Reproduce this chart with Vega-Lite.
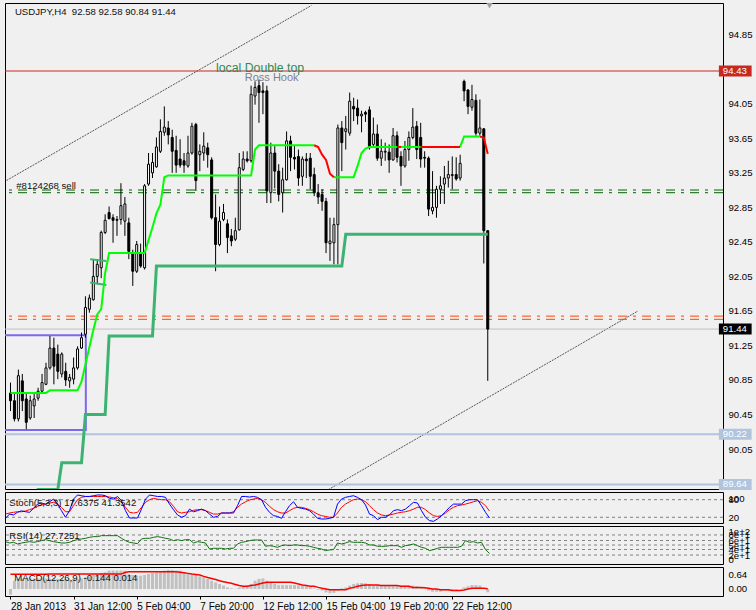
{
"$schema":"https://vega.github.io/schema/vega-lite/v6.json",
"background":"#F0F0F0",
"padding":{"left":3,"top":2,"right":0,"bottom":0},
"bounds":"flush",
"spacing":3,
"config":{"view":{"stroke":"#000000","strokeWidth":1},"axis":{"labelFont":"Liberation Sans","labelFontSize":9.6,"labelColor":"#000000","domain":false,"grid":false,"ticks":false},"text":{"font":"Liberation Sans"}},
"datasets":{
"b":[
{"i":0,"o":90.70,"h":90.82,"l":90.49,"c":90.61,"t":89.30,"k":16.5,"d":31,"r":58.8,"m":-0.25,"s":0.64},
{"i":1,"o":90.61,"h":90.69,"l":90.37,"c":90.40,"t":89.30,"k":31,"d":34.6,"r":55.3,"m":0.36,"s":0.64},
{"i":2,"o":90.40,"h":90.97,"l":90.37,"c":90.90,"t":89.30,"k":28,"d":37,"r":57.1,"m":0.44,"s":0.64},
{"i":3,"o":90.84,"h":90.92,"l":90.49,"c":90.61,"t":89.30,"k":37,"d":39,"r":52.7,"m":0.46,"s":0.64},
{"i":4,"o":90.63,"h":90.69,"l":90.28,"c":90.36,"t":89.30,"k":42,"d":39,"r":55.3,"m":0.46,"s":0.64},
{"i":5,"o":90.41,"h":90.67,"l":90.39,"c":90.61,"t":89.30,"k":39,"d":41.5,"r":57.1,"m":0.46,"s":0.64},
{"i":6,"o":90.55,"h":90.69,"l":90.41,"c":90.63,"t":89.30,"k":37,"d":46,"r":58.8,"m":0.46,"s":0.64},
{"i":7,"o":90.64,"h":90.76,"l":90.61,"c":90.72,"t":89.58,"k":50.5,"d":50.5,"r":57.1,"m":0.46,"s":0.64},
{"i":8,"o":90.72,"h":90.92,"l":90.70,"c":90.82,"t":89.58,"k":65,"d":57.3,"r":58.8,"m":0.46,"s":0.64},
{"i":9,"o":90.80,"h":91.05,"l":90.79,"c":90.99,"t":89.58,"k":68.7,"d":61.9,"r":61.5,"m":0.46,"s":0.64},
{"i":10,"o":90.99,"h":91.36,"l":90.97,"c":91.22,"t":89.58,"k":65,"d":65,"r":64.1,"m":0.44,"s":0.65},
{"i":11,"o":91.22,"h":91.34,"l":90.80,"c":91.01,"t":89.58,"k":73,"d":68.7,"r":61.5,"m":0.44,"s":0.65},
{"i":12,"o":91.15,"h":91.26,"l":90.86,"c":90.95,"t":89.58,"k":82,"d":71,"r":58.8,"m":0.44,"s":0.65},
{"i":13,"o":90.92,"h":91.17,"l":90.88,"c":91.15,"t":89.89,"k":65,"d":65,"r":57.1,"m":0.44,"s":0.65},
{"i":14,"o":90.95,"h":91.05,"l":90.78,"c":90.85,"t":89.89,"k":42.6,"d":54,"r":55.3,"m":0.44,"s":0.65},
{"i":15,"o":90.84,"h":90.92,"l":90.76,"c":90.88,"t":89.89,"k":20,"d":39,"r":55.3,"m":0.41,"s":0.65},
{"i":16,"o":90.86,"h":91.11,"l":90.80,"c":90.99,"t":89.89,"k":42.6,"d":39,"r":57.1,"m":0.44,"s":0.65},
{"i":17,"o":90.99,"h":91.24,"l":90.97,"c":91.21,"t":89.89,"k":82,"d":59.6,"r":61.5,"m":0.44,"s":0.65},
{"i":18,"o":91.22,"h":91.40,"l":91.21,"c":91.34,"t":89.89,"k":96,"d":80,"r":64.1,"m":0.46,"s":0.65},
{"i":19,"o":91.38,"h":91.82,"l":91.34,"c":91.69,"t":90.45,"k":93.6,"d":88,"r":65.9,"m":0.51,"s":0.65},
{"i":20,"o":91.67,"h":91.84,"l":91.63,"c":91.80,"t":90.45,"k":91,"d":91,"r":67.6,"m":0.55,"s":0.65},
{"i":21,"o":91.78,"h":92.25,"l":91.77,"c":92.05,"t":90.45,"k":91,"d":91,"r":70.2,"m":0.61,"s":0.65},
{"i":22,"o":92.05,"h":92.25,"l":91.96,"c":92.19,"t":90.45,"k":93.6,"d":91,"r":72.0,"m":0.65,"s":0.65},
{"i":23,"o":92.15,"h":92.58,"l":92.03,"c":92.56,"t":90.45,"k":96,"d":91,"r":72.0,"m":0.70,"s":0.65},
{"i":24,"o":92.56,"h":92.77,"l":92.54,"c":92.70,"t":90.45,"k":96,"d":91,"r":74.6,"m":0.73,"s":0.65},
{"i":25,"o":92.79,"h":92.86,"l":92.71,"c":92.72,"t":91.36,"k":93.6,"d":91,"r":74.6,"m":0.80,"s":0.65},
{"i":26,"o":92.73,"h":92.77,"l":92.44,"c":92.70,"t":91.36,"k":84.5,"d":89,"r":74.6,"m":0.80,"s":0.65},
{"i":27,"o":92.70,"h":92.75,"l":92.52,"c":92.71,"t":91.36,"k":82,"d":86.8,"r":74.6,"m":0.80,"s":0.65},
{"i":28,"o":92.71,"h":93.13,"l":92.65,"c":92.87,"t":91.36,"k":91,"d":84.5,"r":74.6,"m":0.80,"s":0.65},
{"i":29,"o":92.69,"h":92.97,"l":92.52,"c":92.89,"t":91.36,"k":76.6,"d":71,"r":67.6,"m":0.80,"s":0.72},
{"i":30,"o":92.67,"h":92.73,"l":92.25,"c":92.34,"t":91.36,"k":42.6,"d":54,"r":61.5,"m":0.65,"s":0.75},
{"i":31,"o":92.32,"h":92.36,"l":91.94,"c":92.11,"t":91.36,"k":17.6,"d":37,"r":57.1,"m":0.61,"s":0.75},
{"i":32,"o":92.11,"h":92.46,"l":92.09,"c":92.42,"t":91.36,"k":17.6,"d":34.6,"r":55.3,"m":0.58,"s":0.75},
{"i":33,"o":92.32,"h":92.43,"l":92.15,"c":92.17,"t":91.36,"k":17.6,"d":37,"r":53.5,"m":0.58,"s":0.75},
{"i":34,"o":92.15,"h":93.12,"l":92.13,"c":93.10,"t":91.36,"k":48,"d":54,"r":65.9,"m":0.61,"s":0.75},
{"i":35,"o":93.12,"h":93.48,"l":93.10,"c":93.35,"t":91.36,"k":82,"d":71,"r":67.6,"m":0.65,"s":0.75},
{"i":36,"o":93.25,"h":93.48,"l":93.19,"c":93.37,"t":91.36,"k":96,"d":80,"r":67.6,"m":0.70,"s":0.75},
{"i":37,"o":93.32,"h":93.66,"l":93.31,"c":93.55,"t":92.17,"k":93.6,"d":84.5,"r":70.2,"m":0.73,"s":0.75},
{"i":38,"o":93.50,"h":93.87,"l":93.48,"c":93.73,"t":92.17,"k":91,"d":82,"r":72.0,"m":0.75,"s":0.75},
{"i":39,"o":93.72,"h":94.02,"l":93.68,"c":93.78,"t":92.17,"k":91,"d":80,"r":70.2,"m":0.80,"s":0.75},
{"i":40,"o":93.77,"h":93.85,"l":93.58,"c":93.69,"t":92.17,"k":88,"d":80,"r":67.6,"m":0.83,"s":0.75},
{"i":41,"o":93.66,"h":93.75,"l":93.25,"c":93.50,"t":92.17,"k":65,"d":73,"r":65.9,"m":0.83,"s":0.75},
{"i":42,"o":93.51,"h":93.68,"l":93.25,"c":93.34,"t":92.17,"k":46,"d":57.3,"r":61.5,"m":0.80,"s":0.75},
{"i":43,"o":93.41,"h":93.64,"l":93.31,"c":93.34,"t":92.17,"k":28,"d":39,"r":64.1,"m":0.80,"s":0.73},
{"i":44,"o":93.39,"h":93.48,"l":93.25,"c":93.34,"t":92.17,"k":20,"d":34.6,"r":61.5,"m":0.73,"s":0.71},
{"i":45,"o":93.33,"h":93.68,"l":93.31,"c":93.48,"t":92.17,"k":25.6,"d":37,"r":64.1,"m":0.70,"s":0.68},
{"i":46,"o":93.48,"h":93.83,"l":93.46,"c":93.79,"t":92.17,"k":48,"d":39,"r":64.1,"m":0.65,"s":0.65},
{"i":47,"o":93.81,"h":93.83,"l":93.04,"c":93.16,"t":92.17,"k":39,"d":43.7,"r":55.3,"m":0.61,"s":0.63},
{"i":48,"o":93.46,"h":93.58,"l":93.27,"c":93.50,"t":92.17,"k":42.6,"d":46,"r":58.8,"m":0.55,"s":0.61},
{"i":49,"o":93.48,"h":93.72,"l":93.39,"c":93.56,"t":92.17,"k":48,"d":46,"r":57.1,"m":0.51,"s":0.55},
{"i":50,"o":93.54,"h":93.60,"l":93.31,"c":93.46,"t":92.17,"k":42.6,"d":42.6,"r":55.3,"m":0.44,"s":0.50},
{"i":51,"o":93.40,"h":93.43,"l":92.71,"c":92.73,"t":92.17,"k":31,"d":37,"r":39.5,"m":0.36,"s":0.46},
{"i":52,"o":92.73,"h":93.00,"l":92.11,"c":92.42,"t":92.17,"k":20,"d":31,"r":41.3,"m":0.29,"s":0.41},
{"i":53,"o":92.42,"h":92.86,"l":92.40,"c":92.69,"t":92.17,"k":23,"d":31,"r":41.3,"m":0.22,"s":0.36},
{"i":54,"o":92.71,"h":92.89,"l":92.69,"c":92.79,"t":92.17,"k":34.6,"d":34.6,"r":41.3,"m":0.15,"s":0.32},
{"i":55,"o":92.66,"h":92.71,"l":92.32,"c":92.50,"t":92.17,"k":34.6,"d":34.6,"r":39.5,"m":0.07,"s":0.28},
{"i":56,"o":92.52,"h":92.60,"l":92.40,"c":92.46,"t":92.17,"k":34.6,"d":34.6,"r":41.3,"m":0.03,"s":0.25},
{"i":57,"o":92.48,"h":92.73,"l":92.46,"c":92.58,"t":92.17,"k":34.6,"d":39,"r":41.3,"m":0.01,"s":0.20},
{"i":58,"o":92.59,"h":93.48,"l":92.58,"c":93.31,"t":92.17,"k":59.6,"d":54,"r":52.7,"m":0.07,"s":0.15},
{"i":59,"o":93.29,"h":93.50,"l":93.27,"c":93.41,"t":92.17,"k":91,"d":65,"r":57.1,"m":0.12,"s":0.12},
{"i":60,"o":93.41,"h":93.50,"l":93.37,"c":93.39,"t":92.17,"k":91,"d":73,"r":58.8,"m":0.15,"s":0.12},
{"i":61,"o":93.39,"h":94.26,"l":93.37,"c":94.16,"t":92.17,"k":89,"d":79,"r":61.5,"m":0.22,"s":0.15},
{"i":62,"o":94.14,"h":94.31,"l":94.04,"c":94.24,"t":92.17,"k":91,"d":82.3,"r":63.2,"m":0.36,"s":0.17},
{"i":63,"o":94.26,"h":94.33,"l":93.83,"c":94.18,"t":92.17,"k":88,"d":84.5,"r":63.2,"m":0.44,"s":0.22},
{"i":64,"o":94.20,"h":94.30,"l":93.93,"c":94.18,"t":92.17,"k":80,"d":80,"r":63.2,"m":0.46,"s":0.26},
{"i":65,"o":94.20,"h":94.26,"l":92.90,"c":93.04,"t":92.17,"k":54,"d":71,"r":46.6,"m":0.36,"s":0.29},
{"i":66,"o":93.02,"h":93.60,"l":92.90,"c":93.48,"t":92.17,"k":37,"d":57.3,"r":48.3,"m":0.29,"s":0.29},
{"i":67,"o":93.48,"h":93.56,"l":93.07,"c":93.27,"t":92.17,"k":25.6,"d":46,"r":46.6,"m":0.22,"s":0.29},
{"i":68,"o":93.27,"h":93.35,"l":92.92,"c":93.00,"t":92.17,"k":23,"d":39,"r":43.9,"m":0.17,"s":0.29},
{"i":69,"o":93.02,"h":93.31,"l":92.79,"c":93.17,"t":92.17,"k":16.5,"d":34.6,"r":48.3,"m":0.17,"s":0.29},
{"i":70,"o":93.17,"h":93.73,"l":93.16,"c":93.62,"t":92.17,"k":39,"d":34.6,"r":50.1,"m":0.17,"s":0.29},
{"i":71,"o":93.62,"h":93.68,"l":93.27,"c":93.43,"t":92.17,"k":59.6,"d":42.6,"r":48.3,"m":0.17,"s":0.29},
{"i":72,"o":93.43,"h":93.56,"l":93.29,"c":93.41,"t":92.17,"k":73,"d":50.5,"r":50.1,"m":0.17,"s":0.26},
{"i":73,"o":93.44,"h":93.52,"l":93.10,"c":93.19,"t":92.17,"k":54,"d":54,"r":50.1,"m":0.15,"s":0.22},
{"i":74,"o":93.21,"h":93.44,"l":93.10,"c":93.41,"t":92.17,"k":50.5,"d":54,"r":48.3,"m":0.15,"s":0.17},
{"i":75,"o":93.41,"h":93.48,"l":93.19,"c":93.39,"t":92.17,"k":48,"d":50.5,"r":48.3,"m":0.12,"s":0.15},
{"i":76,"o":93.42,"h":93.48,"l":93.06,"c":93.21,"t":92.17,"k":42.6,"d":46,"r":46.6,"m":0.07,"s":0.12},
{"i":77,"o":93.23,"h":93.31,"l":92.98,"c":93.02,"t":92.17,"k":31,"d":39,"r":43.9,"m":0.03,"s":0.12},
{"i":78,"o":93.02,"h":93.12,"l":92.89,"c":92.97,"t":92.17,"k":16.5,"d":31,"r":41.3,"m":-0.03,"s":0.07},
{"i":79,"o":93.00,"h":93.06,"l":92.81,"c":92.92,"t":92.17,"k":14.2,"d":25.6,"r":39.5,"m":-0.07,"s":0.03},
{"i":80,"o":92.92,"h":92.96,"l":92.32,"c":92.44,"t":92.17,"k":14.2,"d":23,"r":35.2,"m":-0.15,"s":0.0},
{"i":81,"o":92.43,"h":92.73,"l":92.23,"c":92.46,"t":92.17,"k":16.5,"d":20,"r":36.9,"m":-0.19,"s":-0.03},
{"i":82,"o":92.44,"h":92.73,"l":92.19,"c":92.65,"t":92.17,"k":20,"d":20,"r":37.8,"m":-0.17,"s":-0.03},
{"i":83,"o":92.65,"h":93.81,"l":92.19,"c":93.77,"t":92.17,"k":65,"d":34.6,"r":55.3,"m":-0.07,"s":-0.03},
{"i":84,"o":93.77,"h":93.85,"l":93.27,"c":93.60,"t":92.17,"k":82,"d":54,"r":52.7,"m":0.03,"s":-0.03},
{"i":85,"o":93.73,"h":93.91,"l":93.52,"c":93.76,"t":92.54,"k":88,"d":65,"r":55.3,"m":0.07,"s":-0.03},
{"i":86,"o":93.71,"h":94.18,"l":93.68,"c":94.08,"t":92.54,"k":91,"d":73,"r":58.8,"m":0.15,"s":0.03},
{"i":87,"o":94.02,"h":94.12,"l":93.85,"c":93.99,"t":92.54,"k":93.6,"d":80,"r":57.1,"m":0.22,"s":0.07},
{"i":88,"o":94.00,"h":94.10,"l":93.81,"c":93.91,"t":92.54,"k":88,"d":82.3,"r":57.1,"m":0.25,"s":0.12},
{"i":89,"o":93.91,"h":93.97,"l":93.72,"c":93.93,"t":92.54,"k":80,"d":80,"r":57.1,"m":0.26,"s":0.15},
{"i":90,"o":93.95,"h":93.97,"l":93.84,"c":93.93,"t":92.54,"k":61.9,"d":73,"r":55.3,"m":0.25,"s":0.17},
{"i":91,"o":93.98,"h":94.02,"l":93.52,"c":93.54,"t":92.54,"k":31,"d":59.6,"r":50.1,"m":0.22,"s":0.17},
{"i":92,"o":93.58,"h":93.89,"l":93.56,"c":93.70,"t":92.54,"k":25.6,"d":46,"r":50.1,"m":0.17,"s":0.17},
{"i":93,"o":93.70,"h":93.81,"l":93.39,"c":93.42,"t":92.54,"k":12,"d":34.6,"r":46.6,"m":0.17,"s":0.17},
{"i":94,"o":93.42,"h":93.64,"l":93.33,"c":93.50,"t":92.54,"k":20,"d":28,"r":46.6,"m":0.17,"s":0.15},
{"i":95,"o":93.49,"h":93.60,"l":93.39,"c":93.50,"t":92.54,"k":20,"d":25.6,"r":46.6,"m":0.17,"s":0.15},
{"i":96,"o":93.49,"h":93.58,"l":93.25,"c":93.40,"t":92.54,"k":28,"d":28,"r":48.3,"m":0.17,"s":0.15},
{"i":97,"o":93.40,"h":93.77,"l":93.39,"c":93.68,"t":92.54,"k":42.6,"d":31,"r":48.3,"m":0.17,"s":0.15},
{"i":98,"o":93.68,"h":93.73,"l":93.37,"c":93.43,"t":92.54,"k":46,"d":34.6,"r":48.3,"m":0.17,"s":0.15},
{"i":99,"o":93.44,"h":93.50,"l":93.10,"c":93.33,"t":92.54,"k":42.6,"d":37,"r":43.9,"m":0.15,"s":0.12},
{"i":100,"o":93.33,"h":93.62,"l":93.31,"c":93.52,"t":92.54,"k":48,"d":39,"r":48.3,"m":0.15,"s":0.12},
{"i":101,"o":93.52,"h":93.73,"l":93.39,"c":93.66,"t":92.54,"k":59.6,"d":42.6,"r":50.1,"m":0.15,"s":0.12},
{"i":102,"o":93.66,"h":94.00,"l":93.64,"c":93.78,"t":92.54,"k":71,"d":48,"r":52.7,"m":0.15,"s":0.07},
{"i":103,"o":93.79,"h":93.85,"l":93.41,"c":93.52,"t":92.54,"k":68.7,"d":54,"r":48.3,"m":0.12,"s":0.07},
{"i":104,"o":93.66,"h":93.83,"l":93.31,"c":93.41,"t":92.54,"k":42.6,"d":54,"r":43.9,"m":0.07,"s":0.07},
{"i":105,"o":93.43,"h":93.50,"l":93.31,"c":93.42,"t":92.54,"k":20,"d":46,"r":41.3,"m":0.03,"s":0.05},
{"i":106,"o":93.42,"h":93.44,"l":92.75,"c":92.83,"t":92.54,"k":8.6,"d":34.6,"r":35.2,"m":-0.07,"s":0.03},
{"i":107,"o":92.81,"h":93.27,"l":92.77,"c":92.85,"t":92.54,"k":6.3,"d":25.6,"r":37.8,"m":-0.12,"s":0.0},
{"i":108,"o":92.85,"h":93.10,"l":92.73,"c":93.06,"t":92.54,"k":14.2,"d":23,"r":41.3,"m":-0.12,"s":0.0},
{"i":109,"o":93.06,"h":93.21,"l":92.89,"c":93.10,"t":92.54,"k":25.6,"d":25.6,"r":43.9,"m":-0.12,"s":-0.03},
{"i":110,"o":93.12,"h":93.33,"l":92.89,"c":93.19,"t":92.54,"k":39,"d":34.6,"r":43.9,"m":-0.07,"s":-0.03},
{"i":111,"o":93.19,"h":93.39,"l":93.08,"c":93.23,"t":92.54,"k":54,"d":46,"r":43.9,"m":-0.07,"s":-0.03},
{"i":112,"o":93.22,"h":93.44,"l":93.06,"c":93.23,"t":92.54,"k":65,"d":54,"r":43.9,"m":-0.03,"s":-0.07},
{"i":113,"o":93.23,"h":93.43,"l":93.16,"c":93.18,"t":92.54,"k":65,"d":59.6,"r":43.9,"m":-0.03,"s":-0.07},
{"i":114,"o":93.19,"h":93.46,"l":93.16,"c":93.36,"t":92.54,"k":65,"d":61.9,"r":46.6,"m":0.0,"s":-0.07},
{"i":115,"o":94.31,"h":94.33,"l":94.08,"c":94.20,"t":92.54,"k":76.6,"d":65,"r":61.5,"m":0.07,"s":-0.04},
{"i":116,"o":94.21,"h":94.22,"l":93.93,"c":94.02,"t":92.54,"k":80,"d":68.7,"r":57.1,"m":0.12,"s":0.0},
{"i":117,"o":94.01,"h":94.27,"l":93.97,"c":94.10,"t":92.54,"k":80,"d":73,"r":58.8,"m":0.17,"s":0.03},
{"i":118,"o":94.09,"h":94.16,"l":93.68,"c":93.71,"t":92.54,"k":80,"d":76.6,"r":55.3,"m":0.17,"s":0.03},
{"i":119,"o":93.71,"h":94.10,"l":93.68,"c":93.77,"t":92.54,"k":59.6,"d":71,"r":57.1,"m":0.15,"s":0.03},
{"i":120,"o":93.76,"h":93.77,"l":92.20,"c":92.58,"t":92.54,"k":37,"d":59.6,"r":37.8,"m":0.0,"s":0.03},
{"i":121,"o":92.58,"h":92.58,"l":90.84,"c":91.44,"t":92.54,"k":17.64,"d":41.35,"r":27.73,"m":-0.144,"s":0.014}
],
"ps":[
{"i":0,"v":90.70,"g":"g1","u":"up"},{"i":9,"v":90.70,"g":"g1","u":"up"},{"i":10,"v":90.73,"g":"g1","u":"up"},{"i":17,"v":90.73,"g":"g1","u":"up"},{"i":18,"v":90.83,"g":"g1","u":"up"},{"i":19,"v":91.03,"g":"g1","u":"up"},{"i":20,"v":91.23,"g":"g1","u":"up"},{"i":21,"v":91.43,"g":"g1","u":"up"},{"i":22,"v":91.61,"g":"g1","u":"up"},{"i":23,"v":91.67,"g":"g1","u":"up"},{"i":24,"v":92.09,"g":"g1","u":"up"},{"i":25,"v":92.32,"g":"g1","u":"up"},{"i":34,"v":92.32,"g":"g1","u":"up"},{"i":35,"v":92.47,"g":"g1","u":"up"},{"i":36,"v":92.62,"g":"g1","u":"up"},{"i":37,"v":92.78,"g":"g1","u":"up"},{"i":38,"v":92.88,"g":"g1","u":"up"},{"i":39,"v":93.20,"g":"g1","u":"up"},{"i":40,"v":93.22,"g":"g1","u":"up"},{"i":61,"v":93.22,"g":"g1","u":"up"},{"i":62,"v":93.52,"g":"g1","u":"up"},{"i":63,"v":93.57,"g":"g1","u":"up"},{"i":77,"v":93.57,"g":"g1","u":"up"},
{"i":77,"v":93.57,"g":"r1","u":"dn"},{"i":78,"v":93.55,"g":"r1","u":"dn"},{"i":79,"v":93.46,"g":"r1","u":"dn"},{"i":80,"v":93.40,"g":"r1","u":"dn"},{"i":81,"v":93.24,"g":"r1","u":"dn"},{"i":82,"v":93.20,"g":"r1","u":"dn"},
{"i":82,"v":93.20,"g":"g2","u":"up"},{"i":87,"v":93.20,"g":"g2","u":"up"},{"i":88,"v":93.33,"g":"g2","u":"up"},{"i":89,"v":93.48,"g":"g2","u":"up"},{"i":90,"v":93.53,"g":"g2","u":"up"},{"i":91,"v":93.55,"g":"g2","u":"up"},{"i":98,"v":93.55,"g":"g2","u":"up"},
{"i":98,"v":93.55,"g":"r2","u":"dn"},{"i":99,"v":93.55,"g":"r2","u":"dn"},
{"i":99,"v":93.55,"g":"g3","u":"up"},{"i":104,"v":93.55,"g":"g3","u":"up"},
{"i":104,"v":93.55,"g":"r3","u":"dn"},{"i":114,"v":93.55,"g":"r3","u":"dn"},
{"i":114,"v":93.55,"g":"g4","u":"up"},{"i":115,"v":93.67,"g":"g4","u":"up"},{"i":119,"v":93.67,"g":"g4","u":"up"},
{"i":119,"v":93.67,"g":"r4","u":"dn"},{"i":120,"v":93.66,"g":"r4","u":"dn"},{"i":121,"v":93.47,"g":"r4","u":"dn"}
],
"tl":[{"id":"a","i":-1,"v":93.162},{"id":"a","i":76.3,"v":95.19},{"id":"b","i":80.6,"v":89.58},{"id":"b","i":159.1,"v":91.65}],
"tk":[{"id":"a","i":20.2,"v":92.25},{"id":"a","i":24.3,"v":92.23},{"id":"b","i":20.2,"v":91.98},{"id":"b","i":24.3,"v":91.95}],
"hl":[{"p":94.43,"k":"res"},{"p":93.051,"k":"ord"},{"p":93.02,"k":"ord"},{"p":91.59,"k":"tp"},{"p":91.553,"k":"tp"},{"p":91.44,"k":"bid"},{"p":90.22,"k":"sup"},{"p":89.64,"k":"sup"}],
"lb":[{"p":94.43,"k":"res"},{"p":91.44,"k":"bid"},{"p":90.22,"k":"sup"},{"p":89.64,"k":"sup"}]
},
"vconcat":[
{"width":718,"height":486,
"resolve":{"axis":{"x":"independent","y":"independent"}},
"layer":[
{"data":{"name":"tl"},"mark":{"type":"line","clip":true,"color":"#555555","strokeWidth":1,"strokeDash":[2,1]},
 "encoding":{"x":{"field":"i","type":"quantitative","scale":{"domain":[-0.125,179.375],"nice":false,"zero":false},"axis":null},
 "y":{"field":"v","type":"quantitative","scale":{"domain":[89.587,95.218],"nice":false,"zero":false},"axis":null},"detail":{"field":"id"}}},
{"data":{"values":[{"x0":-2,"x1":19.1,"top":91.367,"bot":90.27}]},"mark":{"type":"rect","clip":true,"fillOpacity":0,"stroke":"#7B68EE","strokeWidth":2},
 "encoding":{"x":{"field":"x0","type":"quantitative","scale":{"domain":[-0.125,179.375],"nice":false,"zero":false},"axis":null},"x2":{"field":"x1"},
 "y":{"field":"top","type":"quantitative","scale":{"domain":[89.587,95.218],"nice":false,"zero":false},"axis":null},"y2":{"field":"bot"}}},
{"data":{"name":"hl"},"transform":[{"filter":"datum.k=='res'"}],"mark":{"type":"rule","color":"#C8281E","strokeWidth":1},
 "encoding":{"y":{"field":"p","type":"quantitative","scale":{"domain":[89.587,95.218],"nice":false,"zero":false},"axis":null}}},
{"data":{"name":"hl"},"transform":[{"filter":"datum.k=='ord'"}],"mark":{"type":"rule","color":"#006400","strokeWidth":1,"strokeDash":[9,6,3,6]},
 "encoding":{"y":{"field":"p","type":"quantitative","scale":{"domain":[89.587,95.218],"nice":false,"zero":false},"axis":null}}},
{"data":{"name":"hl"},"transform":[{"filter":"datum.k=='tp'"}],"mark":{"type":"rule","color":"#FF4500","strokeWidth":1,"strokeDash":[9,6,3,6]},
 "encoding":{"y":{"field":"p","type":"quantitative","scale":{"domain":[89.587,95.218],"nice":false,"zero":false},"axis":null}}},
{"data":{"name":"hl"},"transform":[{"filter":"datum.k=='bid'"}],"mark":{"type":"rule","color":"#C0C0C0","strokeWidth":1},
 "encoding":{"y":{"field":"p","type":"quantitative","scale":{"domain":[89.587,95.218],"nice":false,"zero":false},"axis":null}}},
{"data":{"name":"hl"},"transform":[{"filter":"datum.k=='sup'"}],"mark":{"type":"rule","color":"#B0C4DE","strokeWidth":2},
 "encoding":{"y":{"field":"p","type":"quantitative","scale":{"domain":[89.587,95.218],"nice":false,"zero":false},"axis":null}}},
{"data":{"name":"b"},"mark":{"type":"rule","color":"#000000","strokeWidth":1},
 "encoding":{"x":{"field":"i","type":"quantitative","scale":{"domain":[-0.125,179.375],"nice":false,"zero":false},"axis":null},
 "y":{"field":"l","type":"quantitative","scale":{"domain":[89.587,95.218],"nice":false,"zero":false},
   "axis":{"orient":"right","title":null,"values":[94.85,94.05,93.65,93.25,92.85,92.45,92.05,91.65,91.25,90.85,90.45,90.05],"format":".2f","labelPadding":5,"labelOverlap":false}},
 "y2":{"field":"h"}}},
{"data":{"name":"b"},"mark":{"type":"bar","orient":"vertical","width":2,"stroke":"#000000","strokeWidth":1},
 "encoding":{"x":{"field":"i","type":"quantitative","scale":{"domain":[-0.125,179.375],"nice":false,"zero":false},"axis":null},
 "y":{"field":"o","type":"quantitative","scale":{"domain":[89.587,95.218],"nice":false,"zero":false},"axis":null},"y2":{"field":"c"},
 "fill":{"condition":{"test":"datum.c >= datum.o","value":"#FFFFFF"},"value":"#000000"}}},
{"data":{"name":"b"},"mark":{"type":"line","clip":true,"color":"#3CB371","strokeWidth":3},
 "encoding":{"x":{"field":"i","type":"quantitative","scale":{"domain":[-0.125,179.375],"nice":false,"zero":false},"axis":null},
 "y":{"field":"t","type":"quantitative","scale":{"domain":[89.587,95.218],"nice":false,"zero":false},"axis":null}}},
{"data":{"name":"tk"},"mark":{"type":"line","color":"#3CB371","strokeWidth":2},
 "encoding":{"x":{"field":"i","type":"quantitative","scale":{"domain":[-0.125,179.375],"nice":false,"zero":false},"axis":null},
 "y":{"field":"v","type":"quantitative","scale":{"domain":[89.587,95.218],"nice":false,"zero":false},"axis":null},"detail":{"field":"id"}}},
{"data":{"name":"ps"},"transform":[{"filter":"datum.u=='up'"}],"mark":{"type":"line","color":"#00FF00","strokeWidth":2},
 "encoding":{"x":{"field":"i","type":"quantitative","scale":{"domain":[-0.125,179.375],"nice":false,"zero":false},"axis":null},
 "y":{"field":"v","type":"quantitative","scale":{"domain":[89.587,95.218],"nice":false,"zero":false},"axis":null},"detail":{"field":"g"}}},
{"data":{"name":"ps"},"transform":[{"filter":"datum.u=='dn'"}],"mark":{"type":"line","color":"#FF0000","strokeWidth":2},
 "encoding":{"x":{"field":"i","type":"quantitative","scale":{"domain":[-0.125,179.375],"nice":false,"zero":false},"axis":null},
 "y":{"field":"v","type":"quantitative","scale":{"domain":[89.587,95.218],"nice":false,"zero":false},"axis":null},"detail":{"field":"g"}}},
{"data":{"name":"lb"},"mark":{"type":"rule","strokeWidth":11,"strokeCap":"butt"},
 "encoding":{"x":{"datum":179.6,"type":"quantitative","scale":{"domain":[-0.125,179.375],"nice":false,"zero":false},"axis":null},"x2":{"datum":187.9},
 "y":{"field":"p","type":"quantitative","scale":{"domain":[89.587,95.218],"nice":false,"zero":false},"axis":null},
 "color":{"field":"k","type":"nominal","scale":{"domain":["res","bid","sup"],"range":["#C8281E","#000000","#B0C4DE"]},"legend":null}}},
{"data":{"name":"lb"},"mark":{"type":"text","align":"left","baseline":"middle","color":"#FFFFFF","fontSize":9.6},
 "encoding":{"x":{"datum":180.6,"type":"quantitative","scale":{"domain":[-0.125,179.375],"nice":false,"zero":false},"axis":null},
 "y":{"field":"p","type":"quantitative","scale":{"domain":[89.587,95.218],"nice":false,"zero":false},"axis":null},
 "text":{"field":"p","type":"quantitative","format":".2f"}}},
{"data":{"values":[{"i":1.125,"v":95.113,"t":"USDJPY,H4\u00a0 92.58 92.58 90.84 91.44"},{"i":1.45,"v":93.097,"t":"#8124268 sell"}]},
 "mark":{"type":"text","align":"left","baseline":"middle","color":"#111111","fontSize":9.6},
 "encoding":{"x":{"field":"i","type":"quantitative","scale":{"domain":[-0.125,179.375],"nice":false,"zero":false},"axis":null},
 "y":{"field":"v","type":"quantitative","scale":{"domain":[89.587,95.218],"nice":false,"zero":false},"axis":null},"text":{"field":"t"}}},
{"data":{"values":[{"i":52.1,"v":94.47,"t":"local Double top"}]},
 "mark":{"type":"text","align":"left","baseline":"middle","color":"#2E8B57","fontSize":12.3},
 "encoding":{"x":{"field":"i","type":"quantitative","scale":{"domain":[-0.125,179.375],"nice":false,"zero":false},"axis":null},
 "y":{"field":"v","type":"quantitative","scale":{"domain":[89.587,95.218],"nice":false,"zero":false},"axis":null},"text":{"field":"t"}}},
{"data":{"values":[{"i":59.4,"v":94.35,"t":"Ross Hook"}]},
 "mark":{"type":"text","align":"left","baseline":"middle","color":"#7F7F8C","fontSize":11},
 "encoding":{"x":{"field":"i","type":"quantitative","scale":{"domain":[-0.125,179.375],"nice":false,"zero":false},"axis":null},
 "y":{"field":"v","type":"quantitative","scale":{"domain":[89.587,95.218],"nice":false,"zero":false},"axis":null},"text":{"field":"t"}}},
{"data":{"values":[{"i":121.45,"v":95.185}]},
 "mark":{"type":"point","shape":"triangle-down","filled":true,"color":"#A0A0A0","size":40,"opacity":1},
 "encoding":{"x":{"field":"i","type":"quantitative","scale":{"domain":[-0.125,179.375],"nice":false,"zero":false},"axis":null},
 "y":{"field":"v","type":"quantitative","scale":{"domain":[89.587,95.218],"nice":false,"zero":false},"axis":null}}}
]},
{"width":718,"height":31,
"resolve":{"axis":{"x":"independent","y":"independent"}},
"layer":[
{"data":{"values":[{"lv":80},{"lv":20}]},"mark":{"type":"rule","color":"#808080","strokeWidth":1,"strokeDash":[3,3]},
 "encoding":{"y":{"field":"lv","type":"quantitative","scale":{"domain":[0.55,106.25],"nice":false,"zero":false},"axis":null}}},
{"data":{"name":"b"},"mark":{"type":"line","color":"#FF0000","strokeWidth":1},
 "encoding":{"x":{"field":"i","type":"quantitative","scale":{"domain":[-0.125,179.375],"nice":false,"zero":false},"axis":null},
 "y":{"field":"d","type":"quantitative","scale":{"domain":[0.55,106.25],"nice":false,"zero":false},"axis":null}}},
{"data":{"name":"b"},"mark":{"type":"line","color":"#0000FF","strokeWidth":1},
 "encoding":{"x":{"field":"i","type":"quantitative","scale":{"domain":[-0.125,179.375],"nice":false,"zero":false},"axis":null},
 "y":{"field":"k","type":"quantitative","scale":{"domain":[0.55,106.25],"nice":false,"zero":false},
  "axis":{"orient":"right","title":null,"values":[100,80,20,0],"labelPadding":5,"labelOverlap":false,
   "labelBaseline":{"condition":[{"test":"datum.value==100","value":"top"},{"test":"datum.value==0","value":"bottom"}],"value":"middle"}}}}},
{"data":{"values":[{"i":0.95,"v":68.7,"t":"Stoch(5,3,3) 17.6375 41.3542"}]},
 "mark":{"type":"text","align":"left","baseline":"middle","color":"#111111","fontSize":9.6},
 "encoding":{"x":{"field":"i","type":"quantitative","scale":{"domain":[-0.125,179.375],"nice":false,"zero":false},"axis":null},
 "y":{"field":"v","type":"quantitative","scale":{"domain":[0.55,106.25],"nice":false,"zero":false},"axis":null},"text":{"field":"t"}}}
]},
{"width":718,"height":38,
"resolve":{"axis":{"x":"independent","y":"independent"}},
"layer":[
{"data":{"values":[{"lv":76.4},{"lv":61.8},{"lv":50},{"lv":38.2},{"lv":23.6}]},"mark":{"type":"rule","color":"#808080","strokeWidth":1,"strokeDash":[3,3]},
 "encoding":{"y":{"field":"lv","type":"quantitative","scale":{"domain":[0,100],"nice":false,"zero":false},"axis":null}}},
{"data":{"name":"b"},"mark":{"type":"line","color":"#107010","strokeWidth":1},
 "encoding":{"x":{"field":"i","type":"quantitative","scale":{"domain":[-0.125,179.375],"nice":false,"zero":false},"axis":null},
 "y":{"field":"r","type":"quantitative","scale":{"domain":[0,100],"nice":false,"zero":false},
  "axis":{"orient":"right","title":null,"values":[100,76.4,61.8,50,38.2,23.6,0],"format":"~g","labelPadding":5,"labelOverlap":false,
   "labelBaseline":{"condition":[{"test":"datum.value==100","value":"top"},{"test":"datum.value==0","value":"bottom"}],"value":"middle"}}}}},
{"data":{"values":[{"i":0.95,"v":72.9,"t":"RSI(14) 27.7251"}]},
 "mark":{"type":"text","align":"left","baseline":"middle","color":"#111111","fontSize":9.6},
 "encoding":{"x":{"field":"i","type":"quantitative","scale":{"domain":[-0.125,179.375],"nice":false,"zero":false},"axis":null},
 "y":{"field":"v","type":"quantitative","scale":{"domain":[0,100],"nice":false,"zero":false},"axis":null},"text":{"field":"t"}}}
]},
{"width":718,"height":29,
"resolve":{"axis":{"x":"independent","y":"independent"}},
"layer":[
{"data":{"name":"b"},"mark":{"type":"bar","orient":"vertical","width":3,"color":"#C0C0C0"},
 "encoding":{"x":{"field":"i","type":"quantitative","scale":{"domain":[-0.125,179.375],"nice":false,"zero":false},
  "axis":{"orient":"bottom","title":null,"values":[0,16,32,48,64,80,96,112],
   "labelExpr":"['28 Jan 2013','31 Jan 12:00','5 Feb 04:00','7 Feb 20:00','12 Feb 12:00','15 Feb 04:00','19 Feb 20:00','22 Feb 12:00'][round(datum.value/16)]",
   "labelAlign":"left","labelBaseline":"top","labelPadding":2,"ticks":true,"tickSize":3,"tickColor":"#000000","labelFlush":false,"labelOverlap":false,"labelFontSize":10}},
 "y":{"field":"m","type":"quantitative","scale":{"domain":[-0.305,0.958],"nice":false,"zero":false},
  "axis":{"orient":"right","title":null,"values":[0.64,0],"format":".2f","labelPadding":5,"labelOverlap":false}},
 "y2":{"datum":0}}},
{"data":{"name":"b"},"mark":{"type":"line","color":"#FF0000","strokeWidth":1.5},
 "encoding":{"x":{"field":"i","type":"quantitative","scale":{"domain":[-0.125,179.375],"nice":false,"zero":false},"axis":null},
 "y":{"field":"s","type":"quantitative","scale":{"domain":[-0.305,0.958],"nice":false,"zero":false},"axis":null}}},
{"data":{"values":[{"i":0.95,"v":0.479,"t":"MACD(12,26,9) -0.144 0.014"}]},
 "mark":{"type":"text","align":"left","baseline":"middle","color":"#111111","fontSize":9.6},
 "encoding":{"x":{"field":"i","type":"quantitative","scale":{"domain":[-0.125,179.375],"nice":false,"zero":false},"axis":null},
 "y":{"field":"v","type":"quantitative","scale":{"domain":[-0.305,0.958],"nice":false,"zero":false},"axis":null},"text":{"field":"t"}}}
]}
]
}
